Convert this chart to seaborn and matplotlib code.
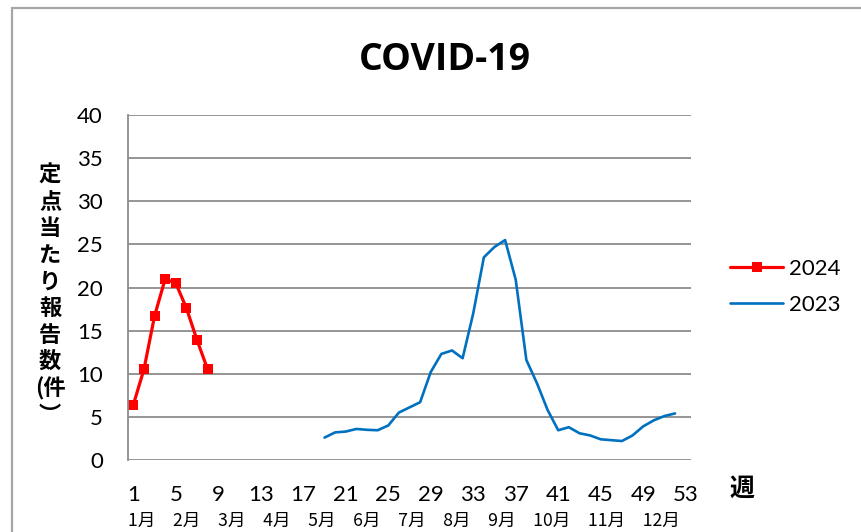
import pandas as pd
import seaborn as sns
import matplotlib.pyplot as plt
from matplotlib.patches import Rectangle
from matplotlib.lines import Line2D

# weekly reports per sentinel site
weeks_2024 = [1, 2, 3, 4, 5, 6, 7, 8]
values_2024 = [6.4, 10.5, 16.7, 21.0, 20.5, 17.6, 13.9, 10.5]

weeks_2023 = list(range(19, 53))
values_2023 = [2.6, 3.2, 3.3, 3.6, 3.5, 3.45, 4.0, 5.5, 6.1, 6.7,
               10.2, 12.3, 12.7, 11.8, 17.0, 23.5, 24.7, 25.5, 20.9, 11.6,
               8.9, 5.8, 3.45, 3.8, 3.1, 2.85, 2.4, 2.3, 2.2, 2.85,
               3.9, 4.6, 5.1, 5.4]

week_ticks = [1, 5, 9, 13, 17, 21, 25, 29, 33, 37, 41, 45, 49, 53]
y_ticks = [0, 5, 10, 15, 20, 25, 30, 35, 40]
months = ["1月", "2月", "3月", "4月", "5月", "6月", "7月", "8月", "9月", "10月", "11月", "12月"]

df24 = pd.DataFrame({"week": weeks_2024, "value": values_2024})
df23 = pd.DataFrame({"week": weeks_2023, "value": values_2023})

sns.set_style("white")
plt.rcParams["font.family"] = ["Lato", "Noto Sans CJK JP", "DejaVu Sans"]
plt.rcParams["text.color"] = "black"
plt.rcParams["xtick.color"] = "black"
plt.rcParams["ytick.color"] = "black"

W, H = 861, 532
fig = plt.figure(figsize=(W / 100, H / 100), dpi=100)
ax = fig.add_axes([128 / W, 1 - 460 / H, 563 / W, 345 / H])

red = "#FF0000"
blue = "#0070C0"
grid_c = "#8C8C8C"

sns.lineplot(data=df24, x="week", y="value", ax=ax, color=red, lw=2.3,
             marker="s", markersize=7, markeredgewidth=0)
sns.lineplot(data=df23, x="week", y="value", ax=ax, color=blue, lw=1.9)

ax.set_xlim(0.5, 53.5)
ax.set_ylim(0, 40)
ax.set_xticks(week_ticks)
ax.set_yticks(y_ticks)
ax.tick_params(axis="both", length=0, labelsize=16)
ax.tick_params(axis="x", pad=18)
ax.tick_params(axis="y", pad=18)
ax.yaxis.grid(True, color=grid_c, lw=1.3)
ax.set_axisbelow(True)
for s in ["top", "right", "bottom"]:
    ax.spines[s].set_visible(False)
ax.spines["left"].set_color(grid_c)
ax.spines["left"].set_linewidth(1.3)
ax.set_xlabel("")
ax.set_ylabel("")

# month row typed as one string under the week numbers
fig.text(128 / W, 1 - 521 / H, "\u3000".join(months), ha="left", va="center",
         fontsize=12.7, family=["Noto Sans CJK JP"])

fig.text(742 / W, 1 - 489 / H, "週", ha="center", va="center", fontsize=18,
         fontweight="bold", family=["Noto Sans CJK JP"])

ylab = "定\n点\n当\nた\nり\n報\n告\n数\n(件\n︶"
fig.text(50 / W, 1 - 164 / H, ylab, ha="center", va="top", fontsize=16,
         fontweight="bold", linespacing=1.2, family=["Noto Sans CJK JP"])

fig.text(445 / W, 1 - 60 / H, "COVID-19", ha="center", va="center",
         fontsize=27, fontweight="bold", family=["Open Sans"])

handles = [Line2D([], [], color=red, lw=2.3, marker="s", markersize=7, markeredgewidth=0),
           Line2D([], [], color=blue, lw=1.9)]
fig.legend(handles, ["2024", "2023"], loc="center left",
           bbox_to_anchor=(730 / W, 1 - 287 / H), frameon=False, fontsize=16,
           handlelength=2.4, labelspacing=0.7, handletextpad=0.25, borderpad=0,
           borderaxespad=0)

# outer chart frame
fig.patches.append(Rectangle((12 / W, -0.1), 1.1, 1 - 8 / H + 0.1,
                             transform=fig.transFigure, fill=False,
                             edgecolor="#A6A6A6", lw=1.6))

fig.savefig("out.png", dpi=100)
